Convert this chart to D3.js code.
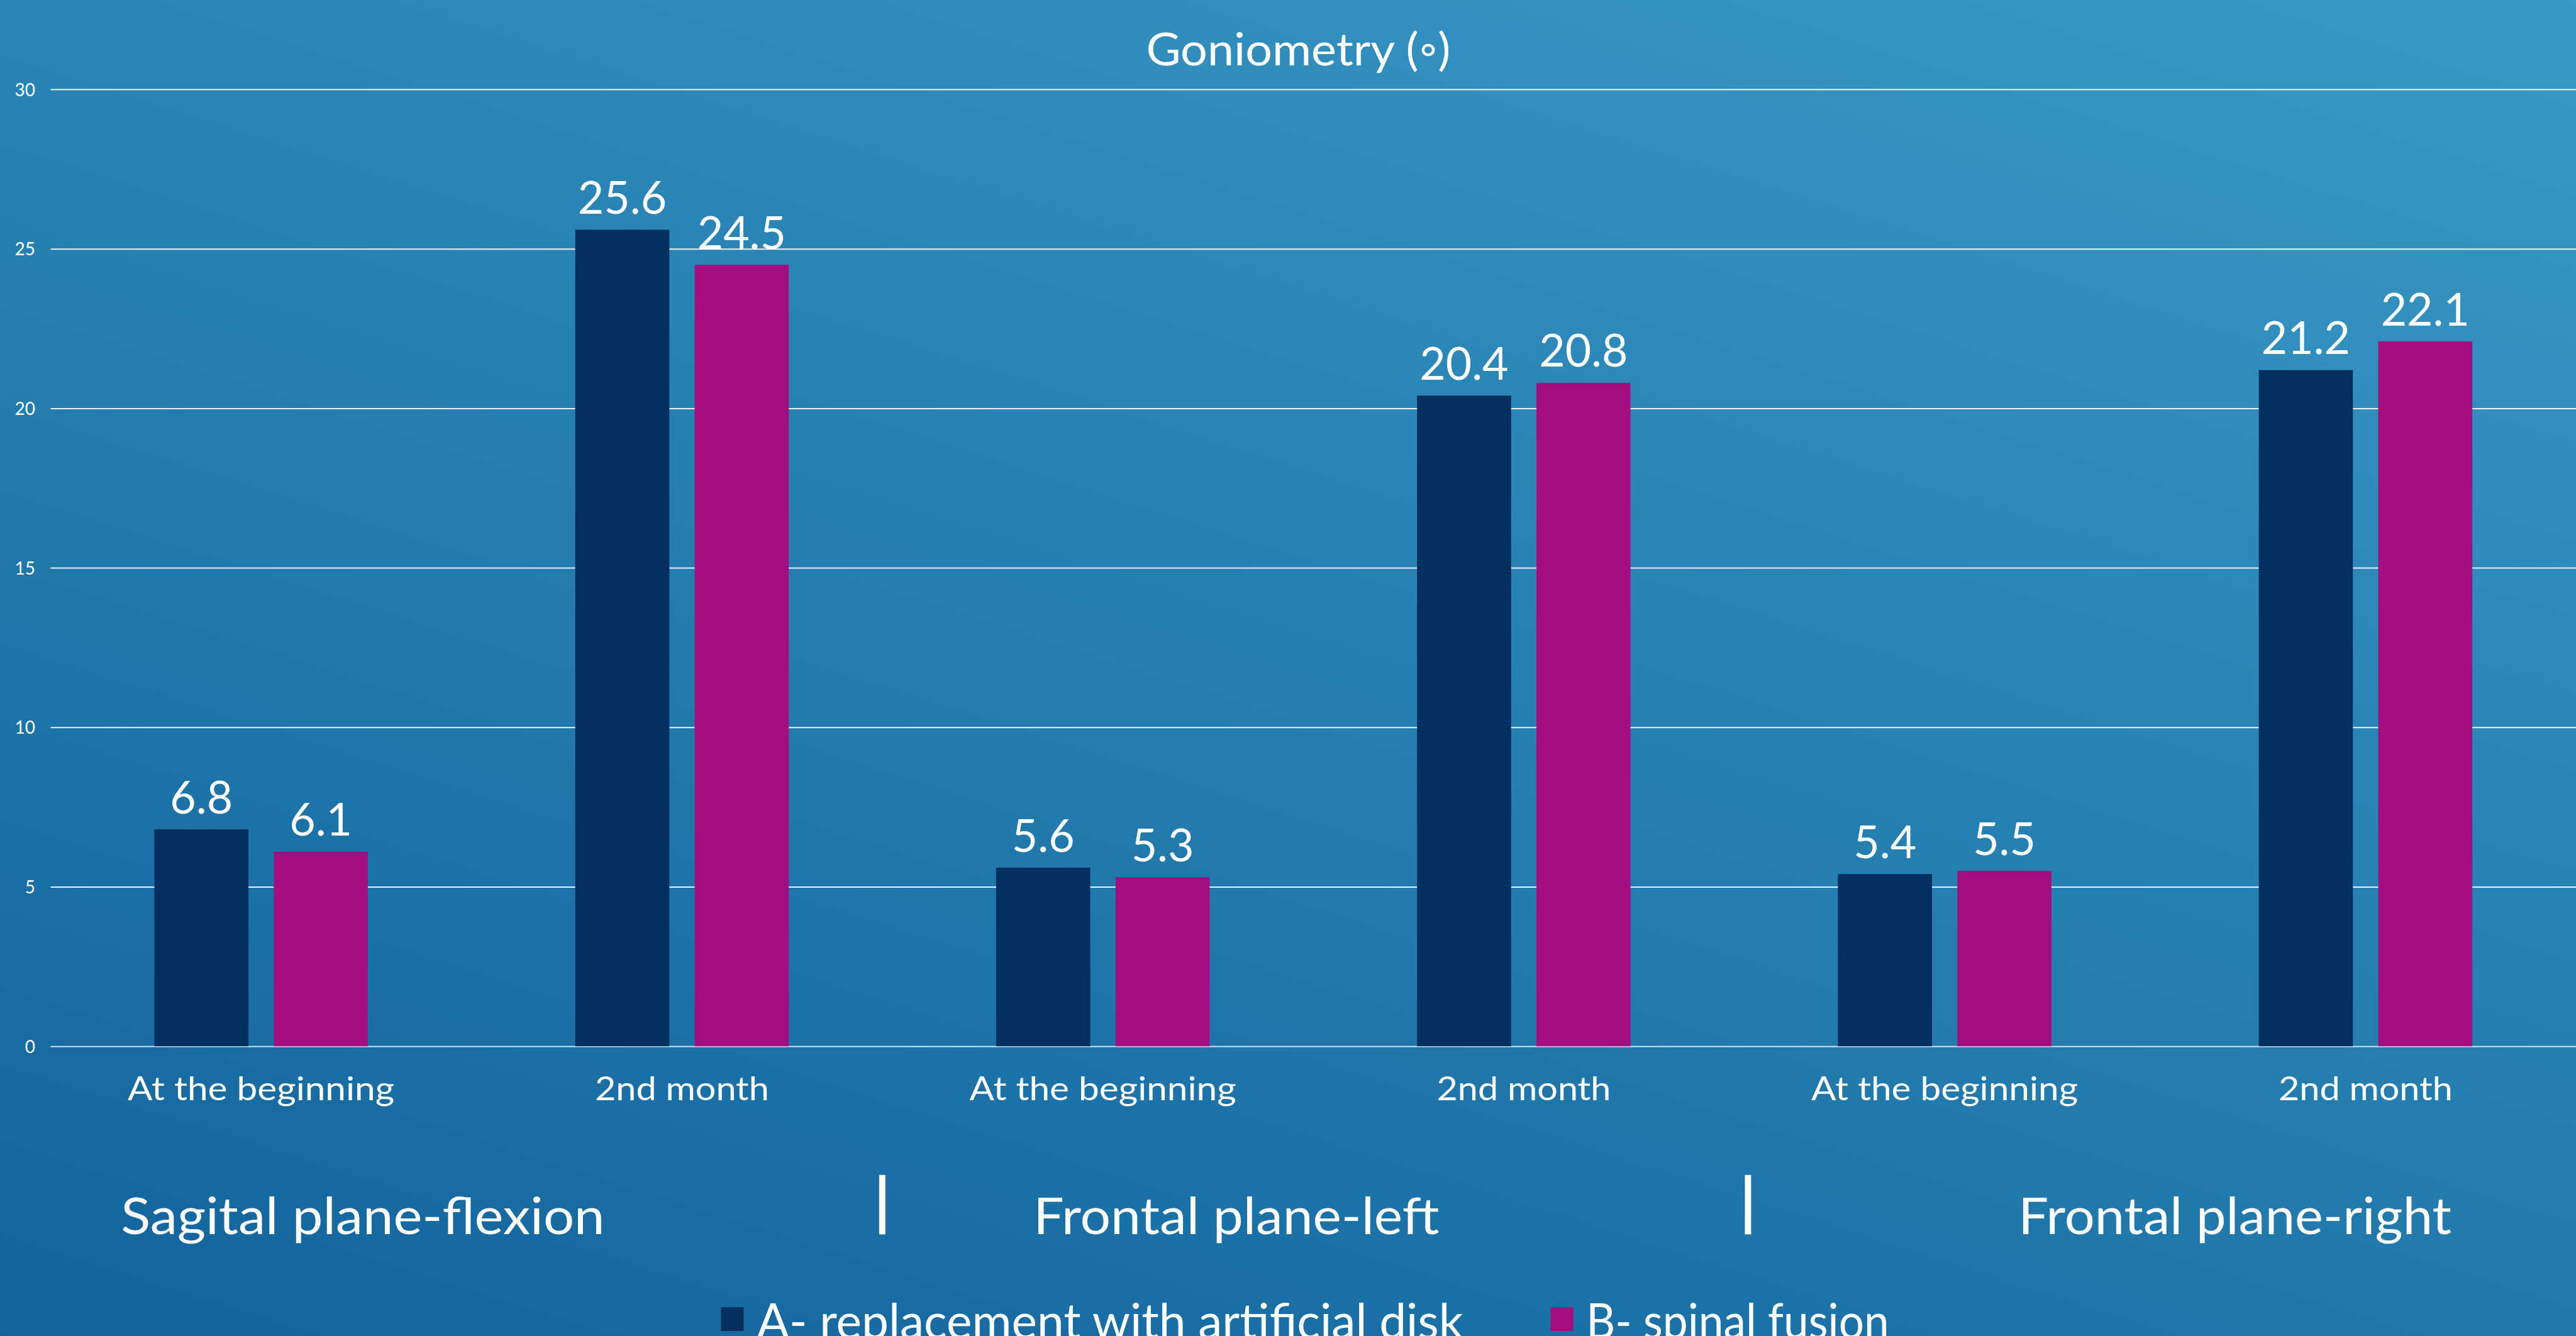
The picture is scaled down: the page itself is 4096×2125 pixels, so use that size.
<!DOCTYPE html>
<html>
<head>
<meta charset="utf-8">
<script src="https://cdn.jsdelivr.net/npm/d3@7"></script>
<style>
  html, body { margin: 0; padding: 0; background: #1f7aaa; overflow: hidden; }
  svg { display: block; }
  text { font-family: "Lato", "Open Sans", "DejaVu Sans", sans-serif; fill: #fff; }
</style>
</head>
<body>
<div class="chart"></div>
<script>
// values
var title = "Goniometry (\u25E6)";
var categories = ["At the beginning", "2nd month", "At the beginning", "2nd month", "At the beginning", "2nd month"];
var seriesNames = ["A- replacement with artificial disk", "B- spinal fusion"];
var seriesA = [6.8, 25.6, 5.6, 20.4, 5.4, 21.2];
var seriesB = [6.1, 24.5, 5.3, 20.8, 5.5, 22.1];
var groupNames = ["Sagital plane-flexion", "Frontal plane-left", "Frontal plane-right"];
var yTicks = [0, 5, 10, 15, 20, 25, 30];

var W = 4096, H = 2125;
var refW = 4984, refH = 2586;       // everything below is laid out in reference pixels
var k = W / refW;

var colors = ["#052f5f", "#a20e7f"];

var svg = d3.select(".chart").append("svg").attr("width", W).attr("height", H);

// background: light at top right, darker to bottom left
var ga = 0.38, gb = 0.62;
var gx = -ga / W, gy = gb / H, g2 = gx * gx + gy * gy;
var grad = svg.append("defs").append("linearGradient")
  .attr("id", "bg").attr("gradientUnits", "userSpaceOnUse")
  .attr("x1", W).attr("y1", 0)
  .attr("x2", W + gx / g2).attr("y2", gy / g2);
grad.append("stop").attr("offset", 0).attr("stop-color", "#3999c5");
grad.append("stop").attr("offset", 1).attr("stop-color", "#12649c");
svg.append("rect").attr("width", W).attr("height", H).attr("fill", "url(#bg)");

var root = svg.append("g").attr("transform", "scale(" + k + ")");

var plotLeft = 98, plotRight = refW, plotTop = 173, plotBottom = 2025;

var y = d3.scaleLinear().domain([0, 30]).range([plotBottom, plotTop]);
var x0 = d3.scaleBand().domain(d3.range(categories.length))
  .range([plotLeft, plotRight]).paddingInner(0.4928).paddingOuter(0.2464);
var x1 = d3.scaleBand().domain([0, 1]).range([0, x0.bandwidth()]).paddingInner(0.212);

// grid + y labels
var yAxis = root.append("g").attr("transform", "translate(" + plotLeft + ",0)")
  .call(d3.axisLeft(y).tickValues(yTicks).tickSize(-(plotRight - plotLeft)).tickPadding(30));
yAxis.select(".domain").remove();
yAxis.selectAll("line").attr("stroke", "#fff").attr("stroke-width", 2.4).attr("stroke-opacity", 0.9);
yAxis.selectAll("text").attr("font-size", 34).attr("dy", "0.36em")
  .attr("fill", "#fff").style("font-family", "Lato, sans-serif");

// bars
var rows = categories.map(function(c, i) { return [seriesA[i], seriesB[i]]; });
var cat = root.selectAll(".cat").data(rows).enter().append("g")
  .attr("class", "cat")
  .attr("transform", function(d, i) { return "translate(" + x0(i) + ",0)"; });

cat.selectAll("rect").data(function(d) { return d; }).enter().append("rect")
  .attr("x", function(d, j) { return x1(j); })
  .attr("y", function(d) { return y(d); })
  .attr("width", x1.bandwidth())
  .attr("height", function(d) { return y(0) - y(d); })
  .attr("fill", function(d, j) { return colors[j]; });

cat.selectAll(".val").data(function(d) { return d; }).enter().append("text")
  .attr("class", "val")
  .attr("x", function(d, j) { return x1(j) + x1.bandwidth() / 2; })
  .attr("y", function(d) { return y(d) - 31; })
  .attr("text-anchor", "middle")
  .attr("font-size", 87)
  .text(d3.format(".1f"));

// category labels
var catWidths = {"At the beginning": 516, "2nd month": 337};
root.selectAll(".catlabel").data(categories).enter().append("text")
  .attr("class", "catlabel")
  .attr("x", function(d, i) { return x0(i) + x0.bandwidth() / 2; })
  .attr("y", 2129)
  .attr("text-anchor", "middle")
  .attr("font-size", 64)
  .attr("textLength", function(d) { return catWidths[d]; })
  .attr("lengthAdjust", "spacingAndGlyphs")
  .text(function(d) { return d; });

// title
root.append("text").attr("x", 2512).attr("y", 127)
  .attr("text-anchor", "middle").attr("font-size", 88)
  .attr("textLength", 589).attr("lengthAdjust", "spacingAndGlyphs")
  .text(title);

// plane labels and separators
var groupPos = [[702, 936], [2392, 785], [4324, 838]];
root.selectAll(".group").data(groupNames).enter().append("text")
  .attr("class", "group")
  .attr("x", function(d, i) { return groupPos[i][0]; })
  .attr("y", 2389)
  .attr("text-anchor", "middle")
  .attr("font-size", 99)
  .attr("textLength", function(d, i) { return groupPos[i][1]; })
  .attr("lengthAdjust", "spacingAndGlyphs")
  .text(function(d) { return d; });

root.selectAll(".sep").data([1701, 3376]).enter().append("rect")
  .attr("class", "sep")
  .attr("x", function(d) { return d; }).attr("y", 2274)
  .attr("width", 12).attr("height", 115).attr("fill", "#fff");

// legend (runs off the bottom edge, as on the slide)
var legendPos = [[1395, 1367], [3000, 586]];
var lg = root.selectAll(".legend").data(seriesNames).enter().append("g")
  .attr("class", "legend")
  .attr("transform", function(d, i) { return "translate(" + legendPos[i][0] + ",2530)"; });
lg.append("rect").attr("width", 44).attr("height", 46)
  .attr("fill", function(d, i) { return colors[i]; });
lg.append("text").attr("x", 69).attr("y", 61)
  .attr("font-size", 95)
  .attr("textLength", function(d, i) { return legendPos[i][1]; })
  .attr("lengthAdjust", "spacingAndGlyphs")
  .text(function(d) { return d; });
</script>
</body>
</html>
